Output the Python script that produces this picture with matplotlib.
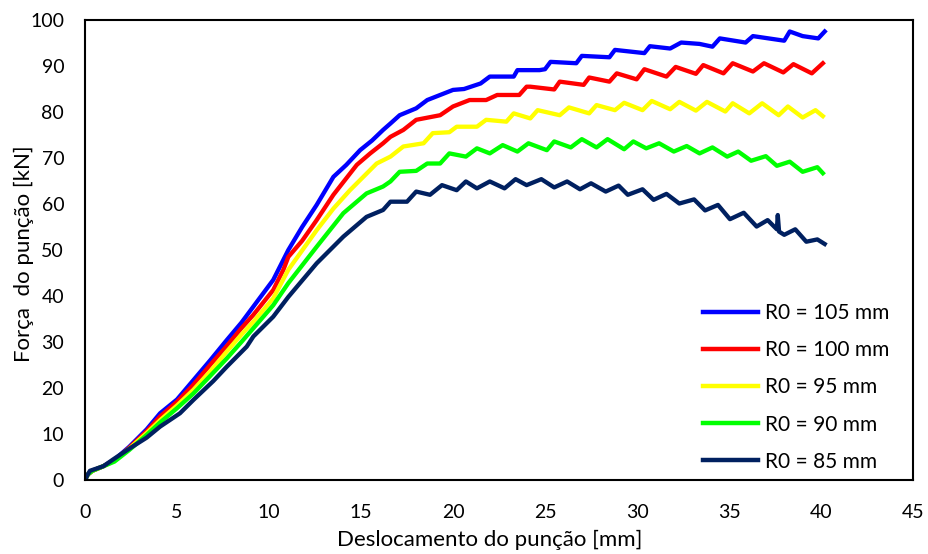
import matplotlib
matplotlib.use("Agg")
import matplotlib.pyplot as plt

# ---- data ----
labels = ["R0 = 105 mm", "R0 = 100 mm", "R0 = 95 mm", "R0 = 90 mm", "R0 = 85 mm"]
colors = ["#0000FF", "#FF0000", "#FFFF00", "#00FF00", "#002060"]

x_r105 = [0, 0.15, 0.4, 1.0, 1.6, 2.4, 3.35, 4.08, 5.0, 5.89, 6.8, 7.7, 8.5, 9.15, 10.23, 11.05, 11.8, 12.59,
          13.5, 14.2, 14.95, 15.6, 16.2, 16.6, 17.1, 18.0, 18.6, 19.3, 20.0, 20.6, 21.5, 22.0, 23.3, 23.5, 24.7,
          25.0, 25.3, 26.7, 27.0, 28.5, 28.8, 30.4, 30.7, 31.8, 32.4, 33.4, 34.1, 34.5, 35.9, 36.3, 38.0, 38.3,
          39.0, 39.85, 40.2]
y_r105 = [0, 1.2, 2.0, 3.0, 4.4, 7.2, 11.0, 14.5, 17.5, 21.7, 26.0, 30.4, 34.2, 37.7, 43.5, 50.0, 55.0, 59.8,
          65.9, 68.5, 71.7, 73.8, 76.1, 77.5, 79.3, 80.8, 82.6, 83.7, 84.8, 85.0, 86.2, 87.7, 87.7, 89.1, 89.1,
          89.3, 90.9, 90.6, 92.2, 91.9, 93.5, 92.8, 94.3, 93.8, 95.1, 94.8, 94.2, 96.0, 95.1, 96.5, 95.5, 97.5,
          96.5, 96.0, 97.5]

x_r100 = [0, 0.15, 0.4, 1.0, 1.6, 2.4, 3.35, 4.08, 5.0, 5.89, 6.8, 7.7, 8.5, 9.15, 10.23, 10.78, 11.05, 11.8,
          12.59, 13.5, 14.77, 15.5, 16.2, 16.6, 17.3, 18.0, 19.3, 20.0, 20.9, 21.8, 22.4, 23.6, 24.0, 24.2, 25.5,
          25.8, 27.1, 27.4, 28.5, 28.9, 29.98, 30.4, 31.6, 32.1, 33.2, 33.6, 34.7, 35.2, 36.3, 36.9, 37.95, 38.5,
          39.5, 40.1]
y_r100 = [0, 1.2, 2.0, 3.0, 4.3, 7.0, 10.6, 13.8, 17.0, 20.7, 25.0, 29.1, 33.0, 35.9, 41.3, 45.7, 48.5, 52.0,
          56.5, 62.0, 68.5, 71.0, 73.2, 74.6, 76.1, 78.3, 79.3, 81.2, 82.6, 82.6, 83.7, 83.7, 85.5, 85.5, 84.9,
          86.6, 85.9, 87.5, 86.6, 88.4, 87.1, 89.3, 87.7, 89.8, 88.3, 90.2, 88.4, 90.6, 88.8, 90.6, 88.6, 90.4,
          88.4, 90.6]

x_r95 = [0, 0.15, 0.4, 1.0, 1.6, 2.4, 3.35, 4.08, 5.0, 5.89, 6.8, 7.7, 8.5, 9.15, 10.23, 11.05, 12.59, 13.5,
         14.4, 15.85, 16.6, 17.3, 18.4, 18.9, 19.8, 20.2, 21.3, 21.8, 22.9, 23.3, 24.2, 24.6, 25.8, 26.3, 27.4,
         27.8, 28.8, 29.3, 30.3, 30.8, 31.8, 32.3, 33.2, 33.8, 34.8, 35.2, 36.1, 36.8, 37.7, 38.2, 39.0, 39.7, 40.1]
y_r95 = [0, 1.2, 2.0, 3.0, 4.2, 6.8, 10.2, 13.0, 16.2, 19.6, 23.6, 27.9, 31.6, 34.4, 39.5, 45.7, 54.3, 59.0,
         63.0, 68.8, 70.3, 72.5, 73.2, 75.4, 75.6, 76.8, 76.8, 78.3, 77.9, 79.7, 78.6, 80.4, 79.3, 81.0, 79.7,
         81.5, 80.4, 82.0, 80.4, 82.4, 80.6, 82.2, 80.3, 82.2, 80.1, 81.9, 79.7, 81.9, 79.3, 81.2, 78.8, 80.4, 79.1]

x_r90 = [0, 0.15, 0.4, 1.0, 1.6, 2.4, 3.35, 4.08, 5.0, 5.89, 6.8, 7.7, 8.5, 9.15, 10.23, 11.05, 12.59, 14.04,
         15.3, 16.2, 16.6, 17.1, 18.0, 18.6, 19.3, 19.8, 20.7, 21.3, 22.0, 22.7, 23.5, 24.1, 25.1, 25.5, 26.4,
         27.0, 27.8, 28.4, 29.3, 29.8, 30.5, 31.2, 32.0, 32.7, 33.4, 34.1, 34.9, 35.5, 36.2, 37.0, 37.6, 38.3,
         39.0, 39.8, 40.1]
y_r90 = [0, 1.2, 2.0, 3.0, 4.0, 6.5, 9.8, 12.5, 15.6, 18.8, 22.6, 26.4, 30.0, 33.0, 38.0, 42.8, 50.7, 58.0,
         62.3, 63.8, 64.9, 67.0, 67.2, 68.8, 68.8, 71.0, 70.3, 72.1, 71.0, 72.8, 71.4, 73.2, 71.7, 73.6, 72.3,
         74.1, 72.3, 74.1, 71.9, 73.6, 72.1, 73.2, 71.4, 72.6, 71.0, 72.3, 70.3, 71.4, 69.4, 70.4, 68.3, 69.2,
         67.0, 68.0, 66.7]

x_r85 = [0, 0.15, 0.27, 1.0, 1.54, 2.4, 3.35, 4.08, 5.16, 5.89, 6.97, 7.7, 8.79, 9.15, 10.23, 11.05, 12.59,
         14.04, 15.3, 16.2, 16.6, 17.5, 18.0, 18.75, 19.4, 20.2, 20.7, 21.3, 22.0, 22.8, 23.4, 24.0, 24.8, 25.5,
         26.2, 26.9, 27.5, 28.3, 29.0, 29.5, 30.3, 30.9, 31.6, 32.3, 33.1, 33.7, 34.4, 35.05, 35.8, 36.5, 37.1,
         37.6, 37.65, 37.72, 38.0, 38.6, 39.2, 39.8, 40.2]
y_r85 = [0, 1.2, 2.0, 3.0, 4.5, 6.8, 9.2, 11.6, 14.5, 17.4, 21.5, 24.6, 29.0, 31.2, 35.5, 39.8, 47.1,
         52.9, 57.2, 58.7, 60.5, 60.5, 62.7, 62.0, 64.1, 63.0, 64.9, 63.4, 64.9, 63.4, 65.4, 64.1, 65.4, 63.6,
         64.9, 63.2, 64.5, 62.7, 64.0, 62.0, 63.2, 60.9, 62.2, 60.1, 61.0, 58.6, 59.8, 56.7, 58.1, 55.1, 56.5,
         54.5, 57.6, 54.0, 53.3, 54.5, 51.8, 52.3, 51.3]

xticks = [0, 5, 10, 15, 20, 25, 30, 35, 40, 45]
yticks = [0, 10, 20, 30, 40, 50, 60, 70, 80, 90, 100]
xlabel = "Deslocamento do punção [mm]"
ylabel = "Força  do punção [kN]"

series_x = [x_r105, x_r100, x_r95, x_r90, x_r85]
series_y = [y_r105, y_r100, y_r95, y_r90, y_r85]

plt.rcParams['font.family'] = ['Lato', 'DejaVu Sans']

fig = plt.figure(figsize=(9.29, 5.54), dpi=100)
ax = fig.add_axes([0.0915, 0.1336, 0.8913, 0.8303])

for xs, ys, c, lab in zip(series_x, series_y, colors, labels):
    ax.plot(xs, ys, color=c, lw=3.1, label=lab, solid_joinstyle='round')

ax.set_xlim(0, 45)
ax.set_ylim(0, 100)
ax.set_xticks(xticks)
ax.set_yticks(yticks)
ax.tick_params(axis='both', length=0, labelsize=14, colors='#000000')
ax.tick_params(axis='x', pad=17)
ax.tick_params(axis='y', pad=15)
for s in ax.spines.values():
    s.set_linewidth(1.5)
    s.set_color('black')

ax.set_xlabel(xlabel, fontsize=16)
ax.set_ylabel(ylabel, fontsize=16)
ax.xaxis.set_label_coords(0.489, -0.108)
ax.yaxis.set_label_coords(-0.062, 0.491)

leg = ax.legend(loc='lower right', bbox_to_anchor=(0.981, 0.0), frameon=False, fontsize=15,
                handlelength=2.65, handletextpad=0.3, labelspacing=0.82, borderaxespad=0.0)
for h in leg.get_lines():
    h.set_linewidth(3.2)

fig.savefig("out.png", dpi=100)
